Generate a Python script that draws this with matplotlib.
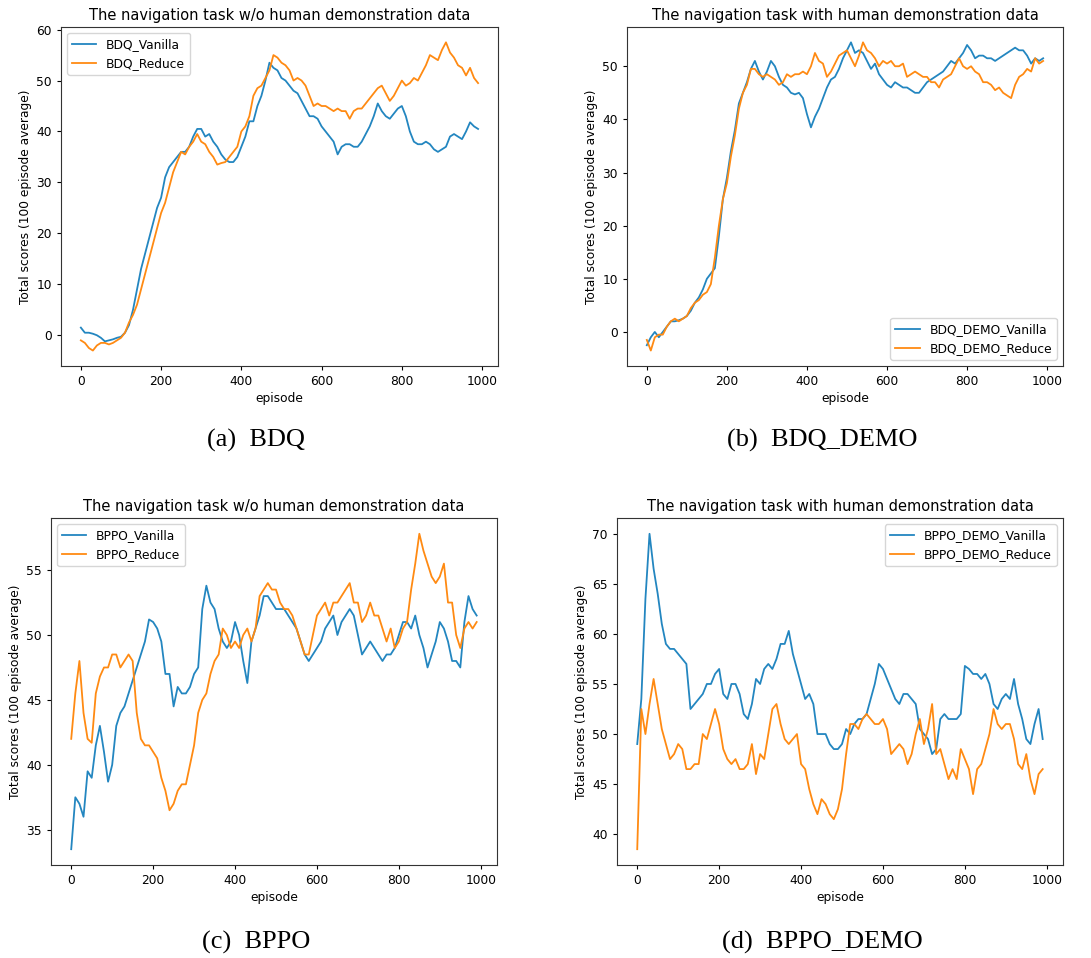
import matplotlib
matplotlib.use("Agg")
import matplotlib.pyplot as plt
import numpy as np

# episodes sampled every 10 steps (0 .. 990)
EPISODES = np.arange(0, 1000, 10)

# ---------------- (a) BDQ ----------------
bdq_vanilla = [
    1.5, 0.5, 0.5, 0.3, 0.0, -0.5, -1.2, -1.0, -0.8, -0.5,
    -0.3, 0.5, 2.0, 5.0, 9.0, 13.0, 16.0, 19.0, 22.0, 25.0,
    27.0, 31.0, 33.0, 34.0, 35.0, 36.0, 36.0, 37.0, 39.0, 40.5,
    40.5, 39.0, 39.5, 38.0, 37.0, 35.5, 34.5, 34.0, 34.0, 35.0,
    37.0, 39.0, 42.0, 42.0, 45.0, 47.0, 50.0, 53.5, 52.5, 52.0,
    50.5, 50.0, 49.0, 48.0, 47.5, 46.0, 44.5, 43.0, 43.0, 42.5,
    41.0, 40.0, 39.0, 38.0, 35.5, 37.0, 37.5, 37.5, 37.0, 37.0,
    38.0, 39.5, 41.0, 43.0, 45.5, 44.0, 43.0, 42.5, 43.5, 44.5,
    45.0, 43.0, 40.0, 38.0, 37.5, 37.5, 38.0, 37.5, 36.5, 36.0,
    36.5, 37.0, 39.0, 39.5, 39.0, 38.5, 40.0, 41.8, 41.0, 40.5,
]
bdq_reduce = [
    -1.0, -1.5, -2.5, -3.0, -2.0, -1.5, -1.5, -1.8, -1.5, -1.0,
    -0.5, 0.5, 2.5, 4.0, 6.0, 9.0, 12.0, 15.0, 18.0, 21.0,
    24.0, 26.0, 29.0, 32.0, 34.0, 36.0, 35.5, 37.0, 38.0, 39.5,
    38.0, 37.5, 36.0, 35.0, 33.5, 33.8, 34.0, 35.0, 36.0, 37.0,
    40.0, 41.0, 43.0, 47.0, 48.5, 49.0, 50.5, 52.0, 55.0, 54.5,
    53.5, 53.0, 52.0, 50.0, 50.5, 50.0, 49.0, 47.0, 45.0, 45.5,
    45.0, 45.0, 44.5, 44.0, 44.5, 44.0, 44.0, 42.5, 44.0, 44.5,
    44.5, 45.5, 46.5, 47.5, 48.5, 49.0, 47.5, 46.0, 47.0, 48.5,
    50.0, 49.0, 49.5, 50.5, 50.0, 51.5, 53.0, 55.0, 54.5, 54.0,
    56.0, 57.5, 55.5, 54.5, 53.0, 52.5, 51.0, 52.5, 50.5, 49.5,
]

# ---------------- (b) BDQ_DEMO ----------------
bdq_demo_vanilla = [
    -2.5, -1.0, 0.0, -1.0, 0.0, 1.0, 2.0, 2.0, 2.2, 2.5,
    3.0, 4.0, 5.5, 6.5, 8.0, 10.0, 11.0, 12.0, 18.0, 25.0,
    29.0, 34.0, 38.0, 43.0, 45.0, 47.0, 49.5, 51.0, 49.0, 47.5,
    49.0, 51.0, 50.0, 48.0, 46.5, 46.0, 45.0, 44.7, 45.0, 44.0,
    41.0, 38.5, 40.5, 42.0, 44.0, 46.0, 47.5, 48.0, 49.5, 51.5,
    53.0, 54.5, 52.5, 53.0, 52.5, 51.0, 49.5, 50.5, 48.5, 47.5,
    46.5, 46.0, 47.0, 46.5, 46.0, 46.0, 45.5, 45.0, 45.0, 46.0,
    47.0, 47.5, 48.0, 48.5, 49.0, 50.0, 51.0, 50.5, 51.5, 52.5,
    54.0, 53.0, 51.5, 52.0, 52.0, 51.5, 51.5, 51.0, 51.5, 52.0,
    52.5, 53.0, 53.5, 53.0, 53.0, 52.0, 50.5, 51.5, 51.0, 51.5,
]
bdq_demo_reduce = [
    -1.5, -3.5, -1.0, -0.5, -0.5, 1.0, 2.0, 2.5, 2.0, 2.5,
    3.0, 4.5, 5.5, 6.0, 7.0, 7.5, 9.0, 14.0, 20.0, 25.0,
    28.0, 33.0, 37.0, 42.0, 45.0, 46.5, 49.5, 49.5, 48.5, 48.0,
    48.5, 48.0, 47.5, 46.5, 47.0, 48.5, 48.0, 48.5, 48.5, 49.0,
    48.5, 50.0, 52.5, 51.0, 50.5, 48.0, 49.0, 50.5, 52.0, 52.5,
    53.0, 51.5, 50.0, 52.0, 54.5, 53.0, 52.5, 51.5, 50.0, 51.0,
    50.5, 51.0, 50.0, 50.0, 50.5, 48.0, 48.5, 49.0, 48.5, 48.0,
    48.0, 47.0, 47.0, 46.0, 47.5, 48.0, 48.5, 50.0, 51.5, 50.0,
    49.5, 50.0, 49.0, 48.5, 47.0, 47.0, 46.5, 45.5, 46.0, 45.0,
    44.5, 44.0, 46.5, 48.0, 48.5, 49.5, 49.0, 51.5, 50.5, 51.0,
]

# ---------------- (c) BPPO ----------------
bppo_vanilla = [
    33.5, 37.5, 37.0, 36.0, 39.5, 39.0, 41.5, 43.0, 41.0, 38.7,
    40.0, 43.0, 44.0, 44.5, 45.5, 46.5, 47.5, 48.5, 49.5, 51.2,
    51.0, 50.5, 49.5, 47.0, 47.0, 44.5, 46.0, 45.5, 45.5, 46.0,
    47.0, 47.5, 52.0, 53.8, 52.5, 52.0, 50.5, 49.5, 49.0, 49.5,
    51.0, 50.0, 48.0, 46.3, 49.5, 50.5, 51.5, 53.0, 53.0, 52.5,
    52.0, 52.0, 52.0, 51.5, 51.0, 50.5, 49.5, 48.5, 48.0, 48.5,
    49.0, 49.5, 50.5, 51.0, 51.5, 50.0, 51.0, 51.5, 52.0, 51.5,
    50.0, 48.5, 49.0, 49.5, 49.0, 48.5, 48.0, 48.5, 48.5, 49.0,
    50.0, 51.0, 51.0, 50.5, 51.5, 50.0, 49.0, 47.5, 48.5, 49.5,
    51.0, 50.5, 49.5, 48.0, 48.0, 47.5, 51.0, 53.0, 52.0, 51.5,
]
bppo_reduce = [
    42.0, 45.5, 48.0, 44.0, 42.0, 41.7, 45.5, 46.8, 47.5, 47.5,
    48.5, 48.5, 47.5, 48.0, 48.5, 48.0, 44.0, 42.0, 41.5, 41.5,
    41.0, 40.5, 39.0, 38.0, 36.5, 37.0, 38.0, 38.5, 38.5, 40.0,
    41.5, 44.0, 45.0, 45.5, 47.0, 48.0, 48.5, 50.5, 50.0, 49.0,
    49.5, 49.0, 50.0, 50.5, 49.5, 50.5, 53.0, 53.5, 54.0, 53.5,
    53.5, 52.5, 52.0, 52.0, 51.5, 50.5, 49.5, 48.5, 48.5, 50.0,
    51.5, 52.0, 52.5, 51.5, 52.5, 52.5, 53.0, 53.5, 54.0, 52.5,
    52.5, 51.0, 51.5, 52.5, 51.5, 51.5, 50.5, 49.5, 50.5, 49.0,
    49.5, 50.5, 51.0, 53.5, 55.5, 57.8, 56.5, 55.5, 54.5, 54.0,
    54.5, 55.5, 52.5, 52.5, 50.0, 49.0, 50.5, 51.0, 50.5, 51.0,
]

# ---------------- (d) BPPO_DEMO ----------------
bppo_demo_vanilla = [
    49.0, 53.5, 63.5, 70.0, 66.5, 64.0, 61.0, 59.0, 58.5, 58.5,
    58.0, 57.5, 57.0, 52.5, 53.0, 53.5, 54.0, 55.0, 55.0, 56.0,
    56.5, 54.0, 53.5, 55.0, 55.0, 54.0, 52.0, 51.5, 53.0, 55.5,
    55.0, 56.5, 57.0, 56.5, 57.5, 59.0, 59.0, 60.3, 58.0, 56.5,
    55.0, 53.5, 54.0, 53.0, 50.0, 50.0, 50.0, 49.0, 48.5, 48.5,
    49.0, 50.5, 50.0, 51.0, 51.5, 51.5, 52.0, 53.5, 55.0, 57.0,
    56.5, 55.5, 54.5, 53.5, 53.0, 54.0, 54.0, 53.5, 53.0, 50.5,
    50.0, 49.5, 48.0, 48.5, 51.5, 52.0, 51.5, 51.5, 51.5, 52.0,
    56.8, 56.5, 56.0, 56.0, 55.5, 56.0, 55.0, 53.0, 52.5, 53.5,
    54.0, 53.5, 55.5, 53.0, 51.5, 49.5, 49.0, 51.0, 52.5, 49.5,
]
bppo_demo_reduce = [
    38.5, 52.5, 50.0, 53.0, 55.5, 53.0, 50.5, 49.0, 47.5, 48.0,
    49.0, 48.5, 46.5, 46.5, 47.0, 47.0, 50.0, 49.5, 51.0, 52.5,
    51.0, 48.5, 47.5, 47.0, 47.5, 46.5, 46.5, 47.0, 49.0, 46.0,
    48.0, 47.5, 50.0, 52.5, 53.0, 51.0, 49.5, 49.0, 49.5, 50.0,
    47.0, 46.5, 44.5, 43.0, 42.0, 43.5, 43.0, 42.0, 41.5, 42.5,
    44.5, 48.0, 51.0, 51.0, 50.5, 51.5, 52.0, 51.5, 51.0, 51.0,
    51.5, 50.5, 48.0, 48.5, 49.0, 48.5, 47.0, 48.0, 50.0, 51.5,
    49.0, 50.5, 53.0, 48.0, 48.5, 47.0, 45.5, 46.5, 45.5, 48.5,
    47.5, 46.5, 44.0, 46.5, 47.0, 48.5, 50.0, 52.5, 51.0, 50.5,
    51.0, 51.0, 49.5, 47.0, 46.5, 48.0, 45.5, 44.0, 46.0, 46.5,
]

TITLE_WO = "The navigation task w/o human demonstration data"
TITLE_WITH = "The navigation task with human demonstration data"

PANELS = [
    # rect (left, bottom, width, height), title, series, legend loc, caption, caption pos
    ((0.0559, 0.6180, 0.4005, 0.3539), TITLE_WO,
     [("BDQ_Vanilla", bdq_vanilla), ("BDQ_Reduce", bdq_reduce)],
     "upper left", "(a)  BDQ", (0.2346, 1 - 440 / 958)),
    ((0.5747, 0.6180, 0.3996, 0.3539), TITLE_WITH,
     [("BDQ_DEMO_Vanilla", bdq_demo_vanilla), ("BDQ_DEMO_Reduce", bdq_demo_reduce)],
     "lower right", "(b)  BDQ_DEMO", (0.7534, 1 - 440 / 958)),
    ((0.0467, 0.0971, 0.4088, 0.3622), TITLE_WO,
     [("BPPO_Vanilla", bppo_vanilla), ("BPPO_Reduce", bppo_reduce)],
     "upper left", "(c)  BPPO", (0.2346, 1 - 942 / 958)),
    ((0.5655, 0.0971, 0.4088, 0.3622), TITLE_WITH,
     [("BPPO_DEMO_Vanilla", bppo_demo_vanilla), ("BPPO_DEMO_Reduce", bppo_demo_reduce)],
     "upper right", "(d)  BPPO_DEMO", (0.7534, 1 - 942 / 958)),
]

COLORS = ["#2386c0", "#ff8a12"]

fig = plt.figure(figsize=(10.91, 9.58), dpi=100)

for rect, title, series, loc, caption, cpos in PANELS:
    ax = fig.add_axes(rect)
    for (label, values), color in zip(series, COLORS):
        ax.plot(EPISODES, values, color=color, linewidth=1.3, label=label)
    ax.set_title(title, fontsize=10.5, pad=5)
    ax.set_xlabel("episode", fontsize=8.8, labelpad=3)
    ax.set_ylabel("Total scores (100 episode average)", fontsize=8.8, labelpad=3)
    ax.set_xticks([0, 200, 400, 600, 800, 1000])
    ax.tick_params(labelsize=8.8, length=3)
    for spine in ax.spines.values():
        spine.set_color("#333333")
    ax.legend(loc=loc, fontsize=8.8)
    fig.text(cpos[0], cpos[1], caption, ha="center", va="center",
             fontsize=19, family="Liberation Serif")

fig.savefig("out.png", dpi=100)
